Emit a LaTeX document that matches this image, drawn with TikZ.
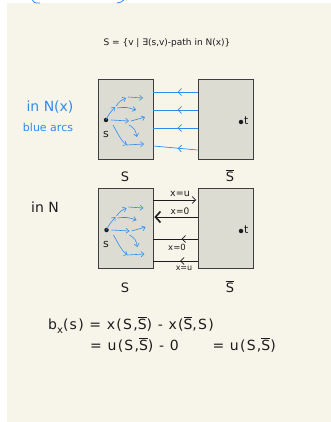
\documentclass[tikz,border=0pt]{standalone}
\usepackage{fontspec}
\setmainfont{DejaVu Sans}
\newfontfamily\spacedfont[LetterSpace=9]{DejaVu Sans}
\usetikzlibrary{arrows.meta,decorations.markings}
\definecolor{bgcream}{HTML}{F7F5EA}
\definecolor{boxgray}{HTML}{DCDCD3}
\definecolor{penblk}{HTML}{1C1C1C}
\definecolor{penblue}{HTML}{2F8CEB}
\newcommand\Sbar{$\overline{\mbox{S}}$}
\begin{document}
\begin{tikzpicture}[x=1pt,y=-1pt,
  cutbox/.style={draw=penblk!85, line width=0.8pt, fill=boxgray, minimum width=55pt, minimum height=80pt, inner sep=0pt},
  dotnode/.style={circle, fill=penblk, inner sep=0pt, minimum size=4.5pt},
  barb/.style={-{Straight Barb[length=3pt,width=5pt]}},
  bluearc/.style={draw=penblue, line width=0.6pt, barb},
  cutblue/.style={draw=penblue, line width=0.7pt},
  cutblk/.style={draw=penblk, line width=0.7pt},
  midleft/.style={postaction={decorate}, decoration={markings, mark=at position #1 with {\arrow{Straight Barb[length=3.5pt,width=7pt]}}}},
  lbl/.style={text=penblk, inner sep=0pt},
  pics/arcs/.style={code={
    \draw[bluearc] (0,0) .. controls (3,-6) .. (9,-13);
    \draw[bluearc] (10,-14) .. controls (14,-19) .. (20,-22);
    \draw[bluearc] (22,-23) -- (37,-22);
    \draw[bluearc] (11,-12) .. controls (20,-13) .. (30,-10);
    \draw[bluearc] (5,0) -- (23,1);
    \draw[bluearc] (25,1) .. controls (32,0) .. (39,-3);
    \draw[bluearc] (23,5) .. controls (29,9) .. (31,17);
    \draw[bluearc] (7,5) .. controls (12,14) and (16,22) .. (21,25);
    \draw[bluearc] (21,25) -- (38,24);
  }}]
\useasboundingbox (0,0) rectangle (331,422);
\fill[white] (0,0) rectangle (331,422);
\fill[bgcream] (7,3) rectangle (331,422);
% cut-off blue strokes at top edge
\draw[penblue, line width=0.8pt] (32,-1) .. controls (34,3) .. (40,3);
\draw[penblue, line width=0.8pt] (117,3) .. controls (122,2) .. (125,-2);

% title
\node[lbl, font=\fontsize{9}{10}\selectfont] (title) at (167,43) {S = \{v | ∃(s,v)-path in N(x)\}};

% ---------- top diagram ----------
\node[cutbox] (L1) at (125.5,119) {};
\node[cutbox] (R1) at (225.5,119) {};
\node[dotnode] (s1) at (106,120) {};
\node[dotnode] (t1) at (241,122) {};
\node[lbl, font=\fontsize{11}{12}\selectfont] (s1l) at (106,134) {s};
\node[lbl, font=\fontsize{11}{12}\selectfont, anchor=west] (t1l) at (244,121) {t};
\pic at (s1) {arcs};
\draw[cutblue, midleft=0.45] (R1.west |- 0,92) -- (L1.east |- 0,92);
\draw[cutblue, midleft=0.45] (R1.west |- 0,110) -- (L1.east |- 0,110);
\draw[cutblue, midleft=0.45] (R1.west |- 0,128) -- (L1.east |- 0,128);
\draw[cutblue, midleft=0.45] (R1.west |- 0,150) -- (L1.east |- 0,146);
\node[lbl, font=\fontsize{13}{14}\selectfont] (S1) at (125,177) {S};
\node[lbl, font=\fontsize{13}{14}\selectfont] (Sb1) at (230,176) {\Sbar};
\node[text=penblue, inner sep=0pt, font=\fontsize{14}{15}\selectfont] (inNx) at (50,107) {in N(x)};
\node[text=penblue, inner sep=0pt, font=\fontsize{11}{12}\selectfont] (barcs) at (48,127) {blue arcs};

% ---------- bottom diagram ----------
\node[cutbox] (L2) at (125.5,228.5) {};
\node[cutbox] (R2) at (226,228.5) {};
\node[dotnode] (s2) at (106.5,230) {};
\node[dotnode] (t2) at (241,231) {};
\node[lbl, font=\fontsize{11}{12}\selectfont] (s2l) at (106,244) {s};
\node[lbl, font=\fontsize{11}{12}\selectfont, anchor=west] (t2l) at (244,230) {t};
\pic at (s2) {arcs};
\draw[cutblk, -{Straight Barb[length=3.5pt,width=7pt]}] (L2.east |- 0,200) -- ([xshift=-2pt]R2.west |- 0,200);
\draw[cutblk, -{Straight Barb[length=5pt,width=11pt,line width=1.6pt]}] (R2.west |- 0,217) -- ([xshift=1pt]L2.east |- 0,217);
\draw[cutblk, midleft=0.37] (R2.west |- 0,239) -- (L2.east |- 0,239);
\draw[cutblk, midleft=0.4] (R2.west |- 0,261) -- (L2.east |- 0,261);
\node[lbl, font=\fontsize{9.5}{10}\selectfont] (x1) at (180,194) {x=u};
\node[lbl, font=\fontsize{9}{10}\selectfont] (x2) at (180,211) {x=0};
\node[lbl, font=\fontsize{8.5}{10}\selectfont] (x3) at (177,247) {x=0};
\node[lbl, font=\fontsize{8}{9}\selectfont] (x4) at (184,268) {x=u};
\node[lbl, font=\fontsize{13}{14}\selectfont] (S2) at (125,288) {S};
\node[lbl, font=\fontsize{13}{14}\selectfont] (Sb2) at (230,287) {\Sbar};
\node[lbl, font=\fontsize{14}{15}\selectfont] (inN) at (45,207) {in N};

% ---------- formula ----------
\node[lbl, font=\spacedfont\fontsize{14}{15}\selectfont, anchor=west] (f1) at (48,325) {b\raisebox{-0.5ex}{\fontsize{10}{11}\selectfont x}(s) = x(S,\Sbar) - x(\Sbar,S)};
\node[lbl, font=\spacedfont\fontsize{14}{15}\selectfont, anchor=west] (f2) at (90,345) {= u(S,\Sbar) - 0 \quad\quad = u(S,\Sbar)};
\end{tikzpicture}
\end{document}
